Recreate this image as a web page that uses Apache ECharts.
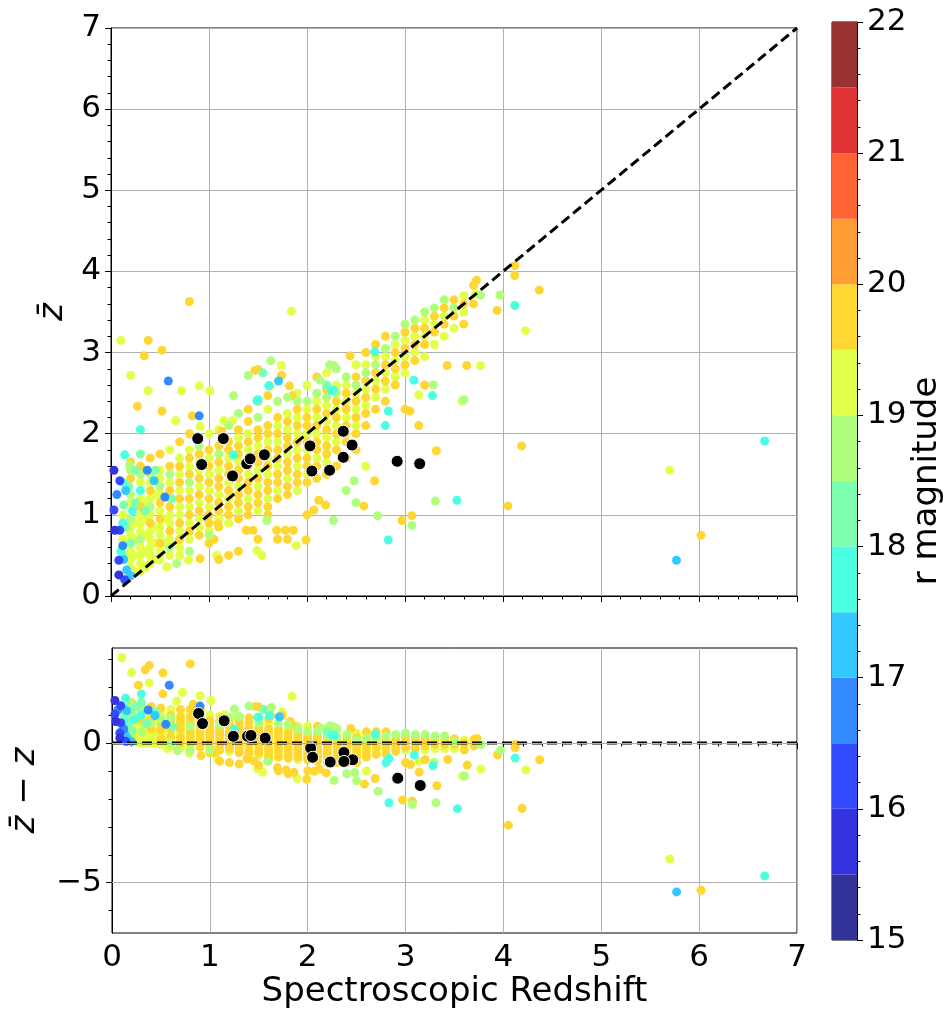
<!DOCTYPE html>
<html>
<head>
<meta charset="utf-8">
<script src="https://cdn.jsdelivr.net/npm/echarts@6/dist/echarts.min.js"></script>
<style>
  html, body { margin: 0; padding: 0; background: #fff; }
  #chart { width: 946px; height: 1012px; }
</style>
</head>
<body>
<div id="chart"></div>
<script>
const FONT = 'DejaVu Sans'

// colour bins of the r magnitude bar
const magEdges  = [15, 15.5, 16, 16.5, 17, 17.5, 18, 18.5, 19, 19.5, 20, 20.5, 21, 21.5, 22]
const magColors = ['#333399', '#3333e0', '#334aff', '#3389ff', '#33c8ff', '#4affe2', '#7cffaf',
                   '#afff7c', '#e2ff4a', '#ffd733', '#ff9d33', '#ff6333', '#e03333', '#993333']

// sources, grouped by r magnitude bin: [spectroscopic z, z-bar]
const mag15_75 = [[0.03, 1.55], [0.04, 0.81], [0.08, 0.26]]
const mag16_25 = [[0.09, 1.42], [0.03, 1.06], [0.09, 0.81], [0.08, 0.44], [0.14, 0.2]]
const mag16_75 = [[0.37, 1.55], [0.55, 1.22], [0.585, 2.65], [0.9, 2.22], [0.12, 0.62], [0.06, 1.25]]
const mag17_25 = [[0.44, 1.42], [1.71, 2.65], [0.16, 0.32], [0.13, 0.45], [0.2, 0.25], [5.77, 0.44], [0.15, 1.3]]
const mag17_75 = [
  [0.3, 2.05], [1.5, 2.42], [1.25, 1.74], [2.83, 0.69], [0.14, 1.74], [0.22, 1.05], [0.3, 1.3],
  [0.12, 0.9], [0.12, 1.4], [1.61, 2.59], [1.49, 2.41], [2.25, 2.53], [2.83, 2.28], [2.8, 2.1],
  [3.09, 2.66], [3.28, 2.47], [3.53, 1.18], [4.12, 3.58], [6.67, 1.91], [2.69, 3.01], [0.1, 0.55],
  [2.27, 2.54]
]
const mag18_25 = [
  [0.12, 0.5], [0.13, 1.12], [0.18, 1.35], [0.2, 0.65], [0.25, 1.55], [0.35, 1.05], [0.62, 1.2],
  [0.25, 1.15], [0.15, 0.85], [0.45, 1.55], [2.2, 2.6], [1.55, 2.75], [0.3, 1.75]
]
const mag18_75 = [
  [0.19, 1.61], [0.2, 0.95], [0.2, 1.25], [0.2, 1.55], [0.3, 0.7], [0.3, 1.5], [0.4, 1.1], [0.4, 1.5],
  [0.5, 1.35], [0.6, 0.6], [0.6, 1.5], [0.8, 0.55], [0.8, 1.4], [0.9, 1.85], [1.1, 1.75], [1.2, 2.1],
  [1.3, 2.25], [1.5, 2.2], [1.7, 2.4], [1.8, 2.45], [2.0, 2.4], [2.1, 2.5], [2.2, 2.45], [2.27, 0.93],
  [2.3, 2.5], [2.3, 2.8], [2.4, 1.3], [2.4, 2.7], [2.5, 1.15], [2.5, 2.6], [2.6, 2.75], [2.72, 0.99],
  [2.7, 2.85], [2.8, 3.05], [2.9, 3.2], [3.0, 3.35], [3.1, 3.4], [3.2, 3.5], [3.3, 3.55], [3.4, 3.65],
  [3.5, 3.55], [3.6, 2.42], [3.31, 1.17], [3.07, 0.87], [2.48, 1.42], [1.25, 2.47], [1.4, 2.72],
  [1.63, 2.9], [3.77, 3.71], [3.97, 3.71], [3.29, 2.6], [1.59, 0.93], [0.67, 0.4], [2.27, 2.84],
  [2.23, 2.85], [2.13, 2.66], [1.0, 0.75], [1.9, 2.4]
]
const mag19_25 = [
  [0.12, 0.6], [0.12, 0.7], [0.12, 1.0],
  [0.2, 0.35], [0.2, 0.45], [0.2, 0.55], [0.2, 0.75], [0.2, 0.85], [0.2, 1.15],
  [0.25, 0.3], [0.25, 0.5], [0.25, 0.7], [0.25, 0.9],
  [0.3, 0.3], [0.3, 0.4], [0.3, 0.5], [0.3, 0.6], [0.3, 0.8], [0.3, 0.9], [0.3, 1.0], [0.3, 1.2], [0.3, 1.4],
  [0.35, 0.35], [0.35, 0.55], [0.35, 0.75], [0.35, 0.95], [0.35, 1.15],
  [0.4, 0.4], [0.4, 0.5], [0.4, 0.6], [0.4, 0.7], [0.4, 0.8], [0.4, 1.0], [0.4, 1.2], [0.4, 1.4],
  [0.45, 0.45], [0.45, 0.65], [0.45, 0.85], [0.45, 1.25],
  [0.5, 0.45], [0.5, 0.55], [0.5, 0.75], [0.5, 0.85], [0.5, 1.05], [0.5, 1.25], [0.5, 1.45], [0.5, 1.55],
  [0.57, 0.36], [0.55, 0.65], [0.55, 0.95],
  [0.6, 0.5], [0.6, 0.7], [0.6, 0.9], [0.6, 1.0], [0.6, 1.2], [0.6, 1.4], [0.6, 1.8],
  [0.7, 0.5], [0.7, 0.6], [0.7, 0.8], [0.7, 1.0], [0.7, 1.1], [0.7, 1.3], [0.7, 1.5], [0.7, 1.7],
  [0.79, 0.44], [0.8, 0.7], [0.8, 0.9], [0.8, 1.1], [0.8, 1.3], [0.8, 1.6], [0.8, 1.8],
  [0.9, 0.85], [0.9, 0.95], [0.9, 1.15], [0.9, 1.35], [0.9, 1.55], [0.9, 1.65],
  [1.0, 0.8], [1.0, 1.1], [1.0, 1.3], [1.0, 1.5], [1.0, 1.7], [1.0, 2.0],
  [1.08, 0.5], [1.1, 0.95], [1.1, 1.25], [1.1, 1.55], [1.1, 2.05],
  [1.2, 0.9], [1.2, 1.2], [1.2, 1.4], [1.2, 1.7],
  [1.3, 1.05], [1.3, 1.35], [1.3, 1.65], [1.3, 1.95],
  [1.4, 1.2], [1.4, 1.5], [1.4, 1.8], [1.4, 2.0],
  [1.49, 0.56], [1.54, 0.5], [1.5, 1.05], [1.5, 1.35], [1.5, 1.55], [1.5, 1.85],
  [1.6, 1.2], [1.6, 1.5], [1.6, 1.7], [1.6, 1.9], [1.6, 2.3],
  [1.7, 1.3], [1.7, 1.6], [1.7, 1.9], [1.7, 2.1],
  [1.8, 1.45], [1.8, 1.75], [1.8, 2.05], [1.8, 2.25],
  [1.89, 0.62], [1.9, 1.3], [1.9, 1.6], [1.9, 1.8], [1.9, 2.0], [1.9, 2.2], [1.9, 2.5],
  [2.0, 1.5], [2.0, 1.8], [2.0, 2.0], [2.0, 2.3], [2.0, 2.6],
  [2.1, 1.7], [2.1, 2.0], [2.1, 2.2], [2.1, 2.4],
  [2.2, 1.65], [2.2, 1.95], [2.2, 2.15], [2.2, 2.35], [2.2, 2.75],
  [2.3, 1.9], [2.3, 2.1], [2.3, 2.3], [2.3, 2.6],
  [2.4, 2.0], [2.4, 2.2], [2.4, 2.4], [2.4, 2.6],
  [2.5, 2.1], [2.5, 2.3], [2.5, 2.5], [2.5, 2.85],
  [2.6, 1.6], [2.6, 2.35], [2.6, 2.55], [2.6, 2.85],
  [2.7, 2.45], [2.7, 2.65], [2.7, 2.95],
  [2.8, 2.55], [2.8, 2.75], [2.8, 2.95],
  [2.9, 2.7], [2.9, 2.9], [2.9, 3.1],
  [3.0, 2.75], [3.0, 2.95], [3.0, 3.15],
  [3.1, 3.0], [3.1, 3.2], [3.14, 2.48],
  [3.2, 2.95], [3.2, 3.2], [3.2, 3.4],
  [3.3, 3.1], [3.3, 3.35], [3.4, 3.2], [3.4, 3.45],
  [3.5, 3.3], [3.6, 3.5], [3.6, 3.7], [3.72, 3.72], [3.77, 2.84], [3.58, 2.4],
  [0.1, 3.15], [0.2, 2.72], [0.38, 2.53], [0.66, 2.16], [0.72, 2.53], [0.9, 2.59], [1.01, 2.53],
  [1.24, 2.16], [1.15, 2.16], [1.74, 2.84], [1.84, 3.51], [4.23, 3.27], [5.7, 1.55], [0.91, 2.09]
]
const mag19_75 = [
  [0.2, 1.45], [0.2, 1.65], [0.3, 1.1], [0.3, 1.6], [0.38, 3.15], [0.52, 3.03], [0.34, 2.96],
  [0.27, 2.34], [0.52, 2.28], [0.83, 2.22],
  [0.4, 0.9], [0.4, 1.3], [0.4, 1.7],
  [0.5, 0.65], [0.5, 0.95], [0.5, 1.15], [0.5, 1.75],
  [0.6, 0.8], [0.6, 1.1], [0.6, 1.3], [0.6, 1.6],
  [0.7, 0.7], [0.7, 0.9], [0.7, 1.2], [0.7, 1.4], [0.7, 1.6], [0.7, 1.9],
  [0.8, 0.8], [0.8, 1.0], [0.8, 1.2], [0.8, 1.5], [0.8, 1.7], [0.8, 2.0], [0.8, 3.63],
  [0.91, 0.46], [0.9, 0.75], [0.9, 1.05], [0.9, 1.25], [0.9, 1.45], [0.9, 1.75],
  [1.0, 0.65], [1.0, 0.9], [1.0, 1.0], [1.0, 1.2], [1.0, 1.4], [1.0, 1.6], [1.0, 1.8],
  [1.05, 0.7], [1.1, 0.45], [1.1, 0.85], [1.1, 1.05], [1.1, 1.15], [1.1, 1.35], [1.1, 1.45],
  [1.1, 1.65], [1.1, 1.85], [1.09, 0.89], [1.13, 2.03],
  [1.2, 0.5], [1.2, 1.0], [1.2, 1.1], [1.2, 1.3], [1.2, 1.5], [1.2, 1.6], [1.2, 1.8], [1.2, 1.9],
  [1.3, 0.55], [1.3, 0.95], [1.3, 1.15], [1.3, 1.25], [1.3, 1.45], [1.3, 1.55], [1.3, 1.75],
  [1.3, 1.85], [1.3, 2.05],
  [1.38, 0.81], [1.4, 1.0], [1.4, 1.1], [1.4, 1.3], [1.4, 1.4], [1.4, 1.6], [1.4, 1.7], [1.4, 1.9],
  [1.4, 2.15], [1.4, 2.3],
  [1.45, 0.81], [1.5, 0.7], [1.5, 1.15], [1.5, 1.25], [1.5, 1.45], [1.5, 1.65], [1.5, 1.75],
  [1.5, 1.95], [1.5, 2.05], [1.5, 2.4], [1.47, 2.78],
  [1.6, 1.0], [1.6, 1.1], [1.6, 1.3], [1.6, 1.4], [1.6, 1.6], [1.6, 1.8], [1.6, 2.0], [1.6, 2.1],
  [1.6, 2.47], [1.62, 2.59], [1.5, 2.79],
  [1.69, 0.81], [1.7, 0.7], [1.7, 1.2], [1.7, 1.4], [1.7, 1.5], [1.7, 1.7], [1.7, 1.8], [1.7, 2.0],
  [1.7, 2.2], [1.74, 2.72],
  [1.78, 0.81], [1.8, 0.7], [1.8, 1.25], [1.8, 1.35], [1.8, 1.55], [1.8, 1.65], [1.8, 1.85],
  [1.8, 1.95], [1.8, 2.15], [1.82, 2.59], [1.85, 2.47],
  [1.86, 0.81], [1.9, 1.4], [1.9, 1.5], [1.9, 1.7], [1.9, 1.9], [1.9, 2.1], [1.9, 2.3],
  [1.99, 0.69], [2.0, 1.0], [2.0, 1.4], [2.0, 1.6], [2.0, 1.7], [2.0, 1.9], [2.0, 2.1], [2.0, 2.2],
  [2.07, 1.06], [2.1, 1.45], [2.1, 1.6], [2.1, 1.8], [2.1, 1.9], [2.1, 2.1], [2.1, 2.3], [2.1, 2.7],
  [2.12, 1.18], [2.19, 1.12], [2.2, 1.5], [2.2, 1.75], [2.2, 1.85], [2.2, 2.05], [2.2, 2.25], [2.2, 2.55],
  [2.3, 1.6], [2.3, 1.8], [2.3, 2.0], [2.3, 2.2], [2.3, 2.4],
  [2.4, 1.7], [2.4, 1.9], [2.4, 2.1], [2.4, 2.3], [2.4, 2.5], [2.44, 2.96],
  [2.5, 1.8], [2.5, 2.0], [2.5, 2.2], [2.5, 2.4], [2.5, 2.7],
  [2.58, 1.11], [2.6, 2.1], [2.6, 2.25], [2.6, 2.45], [2.6, 2.65], [2.6, 3.0],
  [2.69, 1.42], [2.7, 2.3], [2.7, 2.55], [2.7, 2.75], [2.7, 3.1],
  [2.8, 2.4], [2.8, 2.65], [2.8, 2.85], [2.8, 3.2],
  [2.9, 2.6], [2.9, 2.8], [2.9, 3.0], [2.97, 0.93],
  [3.0, 2.3], [3.0, 2.85], [3.0, 3.05], [3.0, 3.25], [3.05, 2.28], [3.07, 0.99],
  [3.1, 2.9], [3.1, 3.1], [3.1, 3.3], [3.14, 2.1],
  [3.2, 2.6], [3.2, 3.1], [3.2, 3.3],
  [3.32, 1.79], [3.3, 3.25], [3.3, 3.45],
  [3.43, 2.84], [3.4, 3.35], [3.4, 3.55],
  [3.5, 3.45], [3.5, 3.65], [3.6, 3.35], [3.6, 3.6], [3.63, 2.84],
  [3.7, 3.6], [3.7, 3.83], [3.73, 3.89], [3.94, 3.52], [4.12, 4.07], [4.12, 3.95], [4.37, 3.77],
  [4.19, 1.85], [4.05, 1.11], [6.02, 0.75]
]

// black highlighted sources: [spectroscopic z, z-bar]
const highlighted = [
  [0.885, 1.94], [1.146, 1.94], [0.925, 1.62], [1.24, 1.48], [1.385, 1.63], [1.42, 1.69],
  [1.565, 1.74], [2.03, 1.85], [2.05, 1.54], [2.23, 1.55], [2.37, 2.03], [2.46, 1.86],
  [2.37, 1.71], [2.92, 1.66], [3.15, 1.63]
]

const oneToOne  = [[0, 0], [7, 7]]
const zeroLine  = [[0, 0], [7, 0]]
const residGrid = [-5, 0]
const residMinor = [-6, -4, -3, -2, -1, 1, 2, 3]

const magGroups = [
  [19.25, mag19_25], [19.75, mag19_75], [18.75, mag18_75], [18.25, mag18_25], [17.75, mag17_75],
  [17.25, mag17_25], [16.75, mag16_75], [16.25, mag16_25], [15.75, mag15_75]
]
const colored = []
magGroups.forEach(([r, pts]) => pts.forEach(([z, zb]) => colored.push([z, zb, r])))
const coloredResid = colored.map(([z, zb, r]) => [z, +(zb - z).toFixed(3), r])
const highlightedResid = highlighted.map(([z, zb]) => [z, +(zb - z).toFixed(3)])
const barLevels = magColors.map((c, i) => [0, magEdges[i], magEdges[i + 1]])

const minus = v => String(v).replace('-', '\u2212')
const txt = { fontFamily: FONT, fontSize: 31, color: '#000' }
const title = { fontFamily: FONT, fontSize: 34, color: '#000' }
const gridLine = { show: true, lineStyle: { color: '#b0b0b0', width: 1 } }
const tick = { show: true, length: 6, lineStyle: { color: '#000', width: 1 } }
const minor = { show: true, splitNumber: 5, length: 3.5, lineStyle: { color: '#000', width: 1 } }
const axLine = { show: true, lineStyle: { color: '#000', width: 1 } }
const frame = { show: true, borderColor: '#000', borderWidth: 1, backgroundColor: 'transparent' }
const dashed = { color: '#000', width: 3, type: [10, 5] }
const black = { color: '#000', opacity: 1, borderColor: '#fff', borderWidth: 1 }

const chart = echarts.init(document.getElementById('chart'))
chart.setOption({
  backgroundColor: '#fff',
  animation: false,
  grid: [
    { left: 111, top: 28, width: 686, height: 568, ...frame },
    { left: 111, top: 648, width: 686, height: 285, ...frame },
    { left: 832, top: 22, width: 25, height: 918, ...frame },
  ],
  visualMap: {
    type: 'piecewise', show: false, dimension: 2, seriesIndex: [0, 1],
    pieces: magColors.map((c, i) => ({ gte: magEdges[i], lt: magEdges[i + 1], color: c })),
  },
  xAxis: [
    { gridIndex: 0, type: 'value', min: 0, max: 7, interval: 1,
      axisLine: axLine, axisTick: tick, minorTick: minor, splitLine: gridLine,
      axisLabel: { show: false } },
    { gridIndex: 1, type: 'value', min: 0, max: 7, interval: 1,
      axisLine: axLine, axisTick: tick, minorTick: minor, splitLine: gridLine,
      axisLabel: { ...txt, margin: 9 },
      name: 'Spectroscopic Redshift', nameLocation: 'middle', nameGap: 42,
      nameTextStyle: title },
    { gridIndex: 2, type: 'category', data: ['r'], show: false },
  ],
  yAxis: [
    { gridIndex: 0, type: 'value', min: 0, max: 7, interval: 1,
      axisLine: axLine, axisTick: tick, minorTick: minor, splitLine: gridLine,
      axisLabel: { ...txt, margin: 10 },
      name: 'z\u0304', nameLocation: 'middle', nameGap: 34,
      nameTextStyle: { ...title, fontStyle: 'italic' } },
    { gridIndex: 1, type: 'value', min: -6.8, max: 3.4, position: 'left',
      axisLine: axLine, splitLine: { show: false },
      axisTick: { ...tick, customValues: residGrid },
      axisLabel: { ...txt, margin: 10, customValues: residGrid, formatter: minus },
      name: 'z\u0304 \u2212 z', nameLocation: 'middle', nameGap: 70,
      nameTextStyle: { ...title, fontStyle: 'italic' } },
    { gridIndex: 1, type: 'value', min: -6.8, max: 3.4, position: 'left',
      axisLine: { show: false }, splitLine: { show: false },
      axisTick: { ...tick, length: 3.5, customValues: residMinor },
      axisLabel: { show: false } },
    { gridIndex: 2, type: 'value', min: 15, max: 22, interval: 1, position: 'right',
      axisLine: axLine, axisTick: tick, minorTick: minor, splitLine: { show: false },
      axisLabel: { ...txt, margin: 10 },
      name: 'r magnitude', nameLocation: 'middle', nameGap: 50,
      nameTextStyle: title },
  ],
  series: [
    { type: 'scatter', xAxisIndex: 0, yAxisIndex: 0, data: colored, symbolSize: 9, z: 2,
      itemStyle: { opacity: 1 } },
    { type: 'scatter', xAxisIndex: 1, yAxisIndex: 1, data: coloredResid, symbolSize: 9, z: 2,
      itemStyle: { opacity: 1 } },
    { type: 'scatter', xAxisIndex: 0, yAxisIndex: 0, data: highlighted, symbolSize: 12, z: 4,
      itemStyle: black },
    { type: 'scatter', xAxisIndex: 1, yAxisIndex: 1, data: highlightedResid, symbolSize: 12, z: 4,
      itemStyle: black },
    { type: 'line', xAxisIndex: 0, yAxisIndex: 0, data: oneToOne, showSymbol: false, z: 3,
      lineStyle: dashed },
    { type: 'line', xAxisIndex: 1, yAxisIndex: 1, data: zeroLine, showSymbol: false, z: 3,
      lineStyle: dashed },
    { type: 'line', xAxisIndex: 1, yAxisIndex: 1, data: zeroLine, showSymbol: false, z: 1,
      lineStyle: { opacity: 0 }, silent: true,
      markLine: { silent: true, symbol: 'none', label: { show: false },
        lineStyle: { color: '#b0b0b0', width: 1, type: 'solid' },
        data: residGrid.map(v => ({ yAxis: v })) } },
    { type: 'custom', xAxisIndex: 2, yAxisIndex: 3, data: barLevels,
      renderItem: (params, api) => {
        const lo = api.coord([api.value(0), api.value(1)])
        const hi = api.coord([api.value(0), api.value(2)])
        const w = api.size([1, 0])[0]
        return { type: 'rect',
          shape: { x: lo[0] - w / 2, y: hi[1], width: w, height: lo[1] - hi[1] },
          style: { fill: magColors[params.dataIndex] } }
      } },
  ],
})
</script>
</body>
</html>
